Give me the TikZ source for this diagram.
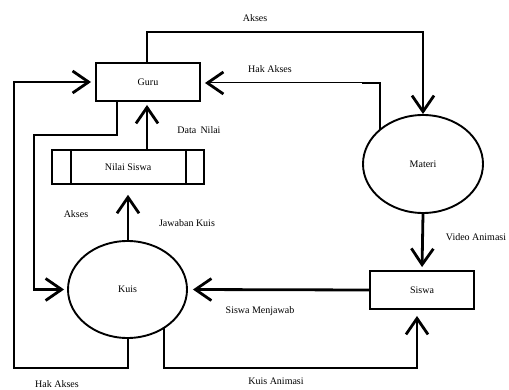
\documentclass[tikz,border=0pt]{standalone}
\usepackage{fontspec}
\setmainfont{Liberation Serif}
\usetikzlibrary{shapes.geometric,arrows.meta,calc}
\begin{document}
\begin{tikzpicture}[x=1pt,y=-1pt,
  every node/.style={font=\fontsize{10}{12}\selectfont},
  boxst/.style={draw,line width=1.9pt,inner sep=0pt},
  ellst/.style={draw,ellipse,line width=1.9pt,inner sep=0pt},
  flow/.style={line width=2.8pt},
  arr/.style={flow,-{Straight Barb[length=16pt,width=22pt]}},
  thinarr/.style={line width=1pt,-{Straight Barb[length=16pt,width=22pt,line width=2.8pt]}},
  lbl/.style={inner sep=0pt}]
\useasboundingbox (0,0) rectangle (509,390);
% nodes
\node[boxst,minimum width=104pt,minimum height=38pt] (guru) at (148,82) {Guru};
\node[boxst,line width=1.6pt,minimum width=152pt,minimum height=34pt] (nilai) at (128,167) {Nilai Siswa};
\draw[line width=1.6pt] (71,150) -- (71,184) (186,150) -- (186,184);
\node[ellst,minimum width=120pt,minimum height=98pt] (materi) at (423,164) {Materi};
\node[boxst,minimum width=104pt,minimum height=38pt] (siswa) at (422,290) {Siswa};
\node[ellst,minimum width=119pt,minimum height=97pt] (kuis) at (127.5,289.5) {Kuis};
% coordinates
\coordinate (hk) at (362,83);
\coordinate (c1) at (34,135);
\coordinate (c2) at (14,368);
\coordinate (mp) at ($(materi.center)+(-43,-34)$);
\coordinate (kp) at ($(kuis.center)+(36.5,38.3)$);
% connectors
\draw[arr] ([xshift=-1pt]guru.north) -- ++(0,-30) -| (materi.north);
\draw[flow] (mp) |- (hk);
\draw[thinarr,shorten >=4pt] (hk) -- (hk -| guru.east);
\draw[arr,shorten >=3pt] ([xshift=-1pt]nilai.north -| guru.south) -- ([xshift=-1pt]guru.south);
\draw[arr,shorten >=3pt] ([xshift=-31pt]guru.south) |- (c1) |- (kuis.west);
\draw[arr,shorten >=10pt] ([xshift=0.5pt]kuis.north) -- ([xshift=0.5pt]kuis.north |- nilai.south);
\draw[arr,shorten >=4pt] ([xshift=0.5pt]kuis.south) |- (c2) |- (guru.west);
\draw[arr,shorten >=6pt] (kp) -- (kp |- c2.south) -| ([xshift=-5pt]siswa.south);
\draw[arr,shorten >=5pt] (siswa.west) -- (kuis.east);
\draw[arr,shorten >=3pt] (materi.south) -- (siswa.north);
% labels
\node[lbl] (l1) at (255,18) {Akses};
\node[lbl] (l2) at (270,69) {Hak Akses};
\node[lbl] (l3) at (199,130) {Data\, Nilai};
\node[lbl] (l4) at (76,214) {Akses};
\node[lbl] (l5) at (187,223) {Jawaban Kuis};
\node[lbl] (l6) at (260,311) {Siswa Menjawab};
\node[lbl] (l7) at (476,237) {Video Animasi};
\node[lbl] (l8) at (276,381) {Kuis Animasi};
\node[lbl] (l9) at (57,384) {Hak Akses};
\end{tikzpicture}
\end{document}
